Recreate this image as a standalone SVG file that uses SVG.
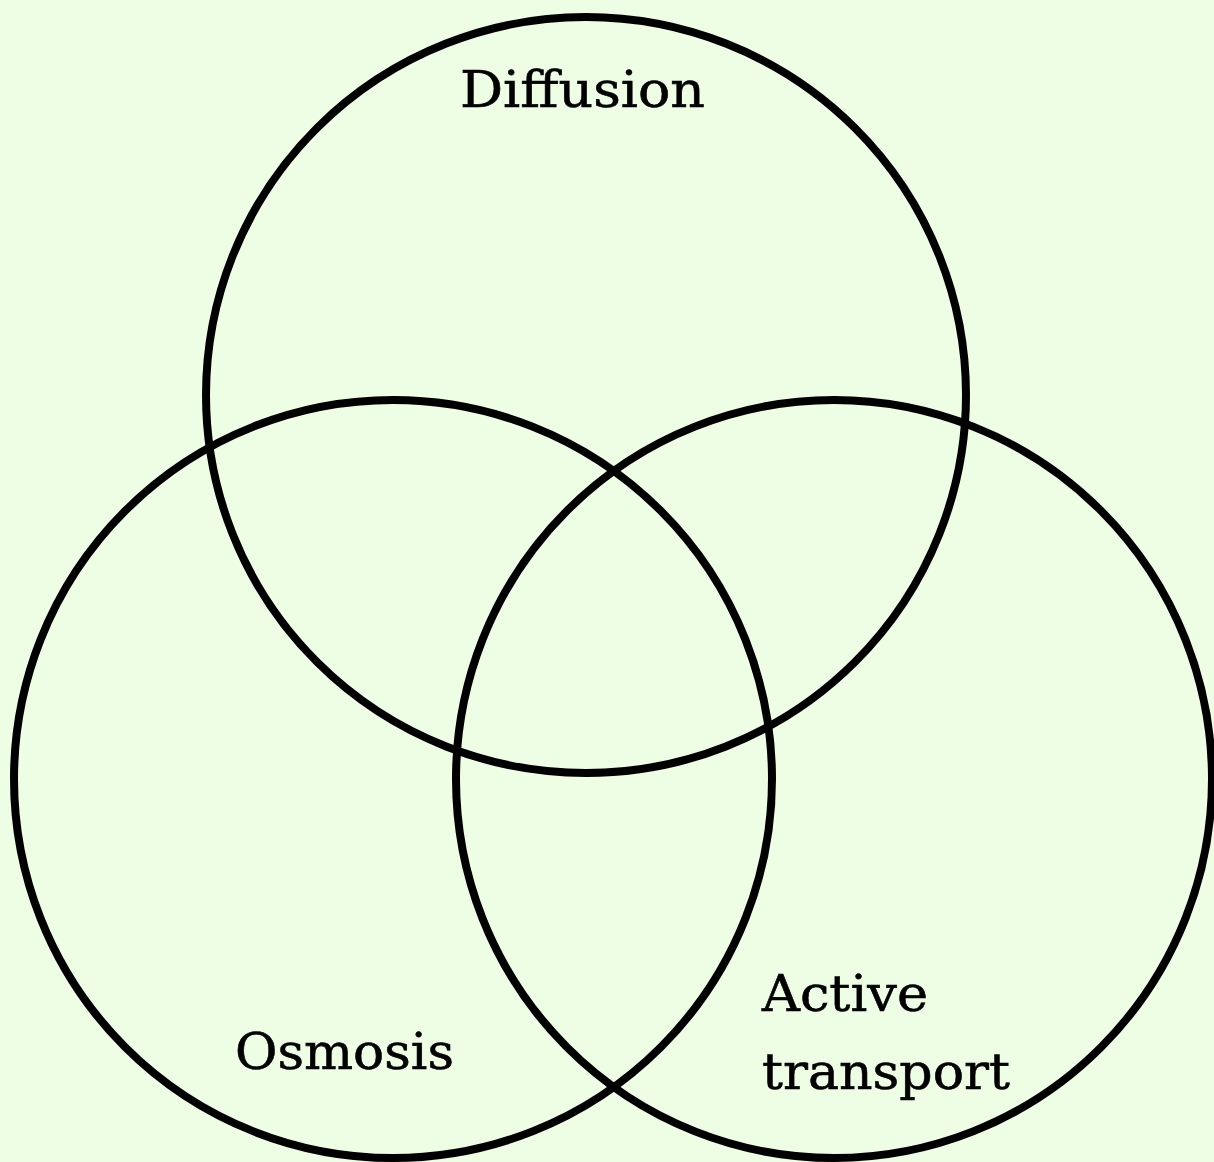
<svg xmlns="http://www.w3.org/2000/svg" width="1214" height="1162" viewBox="0 0 1214 1162">
<style>
.c{fill:none;stroke:#000;stroke-width:8}
.t{font-family:"DejaVu Serif","Liberation Serif",serif;font-size:51px;fill:#000;stroke:#000;stroke-width:0.6}
</style>
<rect width="1214" height="1162" fill="#edfee5"/>
<g id="diffusion">
<ellipse class="c" cx="586" cy="395" rx="380" ry="378"/>
<text class="t" x="460" y="107" textLength="245" lengthAdjust="spacingAndGlyphs">Diffusion</text>
</g>
<g id="osmosis">
<ellipse class="c" cx="393" cy="779" rx="379" ry="379"/>
<text class="t" x="235" y="1069" textLength="219" lengthAdjust="spacingAndGlyphs">Osmosis</text>
</g>
<g id="active-transport">
<ellipse class="c" cx="834" cy="779" rx="378" ry="379"/>
<text class="t" x="762" y="1011" textLength="166" lengthAdjust="spacingAndGlyphs">Active</text>
<text class="t" x="762" y="1089" textLength="248" lengthAdjust="spacingAndGlyphs">transport</text>
</g>
<g id="connectors"/>
</svg>
